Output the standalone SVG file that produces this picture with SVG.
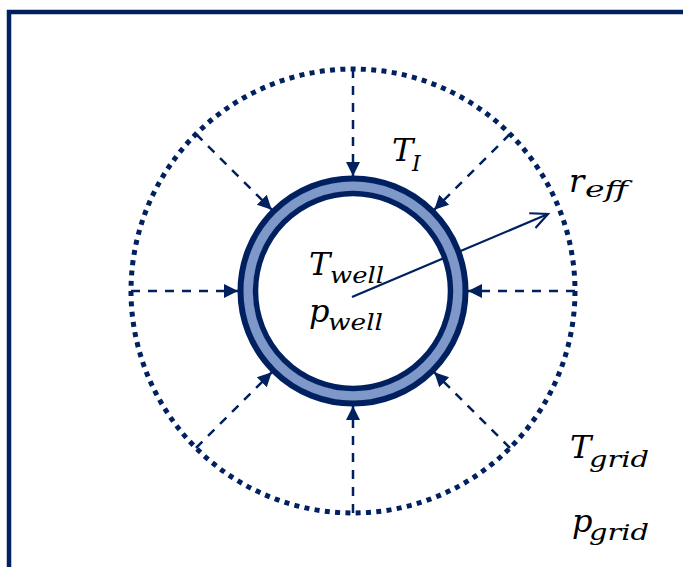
<svg xmlns="http://www.w3.org/2000/svg" width="683" height="567" viewBox="0 0 683 567">
<style>
.frame{fill:none;stroke:#002060;stroke-width:4.5}
.dots{fill:none;stroke:#002060;stroke-width:5;stroke-dasharray:5 5.33}
.dash{fill:none;stroke:#002060;stroke-width:2.5;stroke-dasharray:9 8;marker-end:url(#tri)}
.ring-o{fill:none;stroke:#002060;stroke-width:6}
.ring-m{fill:none;stroke:#7F98CA;stroke-width:10}
.ring-i{fill:none;stroke:#002060;stroke-width:5.5}
.rad{fill:none;stroke:#002060;stroke-width:2.2;marker-end:url(#open)}
.m{font-family:"DejaVu Serif","Liberation Serif",serif;font-style:italic;font-size:32px;fill:#000}
.s{font-size:22px}
</style>
<defs>
<marker id="tri" markerUnits="userSpaceOnUse" markerWidth="16" markerHeight="16" viewBox="-14 -8 16 16" refX="0" refY="0" orient="auto">
<path d="M-14,-7 L0,0 L-14,7 Z" fill="#002060"/>
</marker>
<marker id="open" markerUnits="userSpaceOnUse" markerWidth="24" markerHeight="24" viewBox="-20 -12 24 24" refX="0" refY="0" orient="auto">
<path d="M-17,-8 L0,0 L-17,8" fill="none" stroke="#002060" stroke-width="2.2"/>
</marker>
</defs>
<rect class="frame" x="9" y="12" width="800" height="700"/>
<g id="grid-boundary">
<circle class="dots" cx="353" cy="291" r="222"/>
</g>
<g id="connectors">
<line class="dash" x1="353" y1="69" x2="353" y2="176"/>
<line class="dash" x1="353" y1="513" x2="353" y2="406"/>
<line class="dash" x1="131" y1="291" x2="238" y2="291"/>
<line class="dash" x1="575" y1="291" x2="468" y2="291"/>
<line class="dash" x1="196" y1="134" x2="271.7" y2="209.7"/>
<line class="dash" x1="510" y1="134" x2="434.3" y2="209.7"/>
<line class="dash" x1="196" y1="448" x2="271.7" y2="372.3"/>
<line class="dash" x1="510" y1="448" x2="434.3" y2="372.3"/>
<line class="rad" x1="352" y1="297" x2="548" y2="214"/>
</g>
<g id="well">
<circle class="ring-m" cx="353" cy="291" r="105"/>
<circle class="ring-o" cx="353" cy="291" r="112.5"/>
<circle class="ring-i" cx="353" cy="291" r="97.5"/>
</g>
<g id="labels">
<text class="m" x="392" y="161">T</text><text class="m s" x="412" y="171">I</text>
<text class="m" x="569" y="192">r</text><text class="m s" x="585" y="197" textLength="43" lengthAdjust="spacingAndGlyphs">eff</text>
<text class="m" x="309" y="275">T</text><text class="m s" x="330" y="283" textLength="54" lengthAdjust="spacingAndGlyphs">well</text>
<text class="m" x="309" y="322">p</text><text class="m s" x="328" y="330" textLength="55" lengthAdjust="spacingAndGlyphs">well</text>
<text class="m" x="570" y="458">T</text><text class="m s" x="589" y="467" textLength="60" lengthAdjust="spacingAndGlyphs">grid</text>
<text class="m" x="572" y="532">p</text><text class="m s" x="589" y="540" textLength="60" lengthAdjust="spacingAndGlyphs">grid</text>
</g>
</svg>
